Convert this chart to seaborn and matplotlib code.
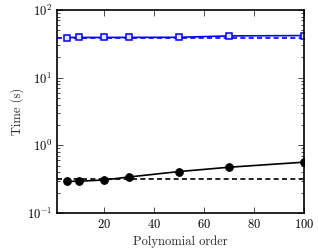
import numpy as np
import pandas as pd
import matplotlib
matplotlib.use("Agg")
import matplotlib.pyplot as plt
import seaborn as sns
from matplotlib.ticker import LogLocator, NullFormatter

# polynomial orders and timings
orders = [5, 10, 20, 30, 50, 70, 100]
black_solid = [0.293, 0.295, 0.308, 0.341, 0.410, 0.475, 0.564]
black_dashed = 0.315
blue_solid = [39.2, 39.3, 39.3, 39.4, 39.5, 41.4, 41.9]
blue_dashed = 38.6

sns.set_style("ticks")
plt.rcParams["font.family"] = ["serif"]
plt.rcParams["font.serif"] = ["cmr10", "DejaVu Serif"]
plt.rcParams["mathtext.fontset"] = "cm"
plt.rcParams["axes.formatter.use_mathtext"] = True
plt.rcParams["font.size"] = 9

df = pd.DataFrame({
    "order": orders * 2,
    "time": black_solid + blue_solid,
    "series": ["black"] * len(orders) + ["blue"] * len(orders),
})

fig = plt.figure(figsize=(3.18, 2.52), dpi=100)
ax = fig.add_axes([57 / 318, 1 - 213 / 252, 247 / 318, 203 / 252])

sns.lineplot(data=df[df.series == "black"], x="order", y="time", ax=ax,
             color="black", lw=1.2, marker="o", markersize=5.5,
             markeredgecolor="black", markerfacecolor="black")
sns.lineplot(data=df[df.series == "blue"], x="order", y="time", ax=ax,
             color="blue", lw=1.2, marker="s", markersize=5,
             markeredgecolor="blue", markerfacecolor="#e6e6ff", markeredgewidth=1.1)
ax.axhline(black_dashed, color="black", ls=(0, (3, 2)), lw=1.2, zorder=1)
ax.axhline(blue_dashed, color="blue", ls=(0, (3, 2)), lw=1.2, zorder=1)

ax.set_yscale("log")
ax.set_ylim(0.1, 100)
ax.set_xlim(1, 100)
ax.set_xticks([20, 40, 60, 80, 100])
ax.yaxis.set_major_locator(LogLocator(base=10, numticks=10))
ax.yaxis.set_minor_locator(LogLocator(base=10, subs=np.arange(2, 10), numticks=20))
ax.yaxis.set_minor_formatter(NullFormatter())

ax.set_xlabel("Polynomial order", labelpad=3)
ax.set_ylabel("Time (s)", labelpad=2)

for s in ax.spines.values():
    s.set_linewidth(1.2)
    s.set_color("black")
ax.tick_params(which="both", direction="in", top=True, right=True, colors="black",
               labelcolor="black", width=0.5)
ax.tick_params(which="major", length=4, labelsize=9)
ax.tick_params(which="minor", length=2.3)

fig.savefig("out.png", dpi=100)
